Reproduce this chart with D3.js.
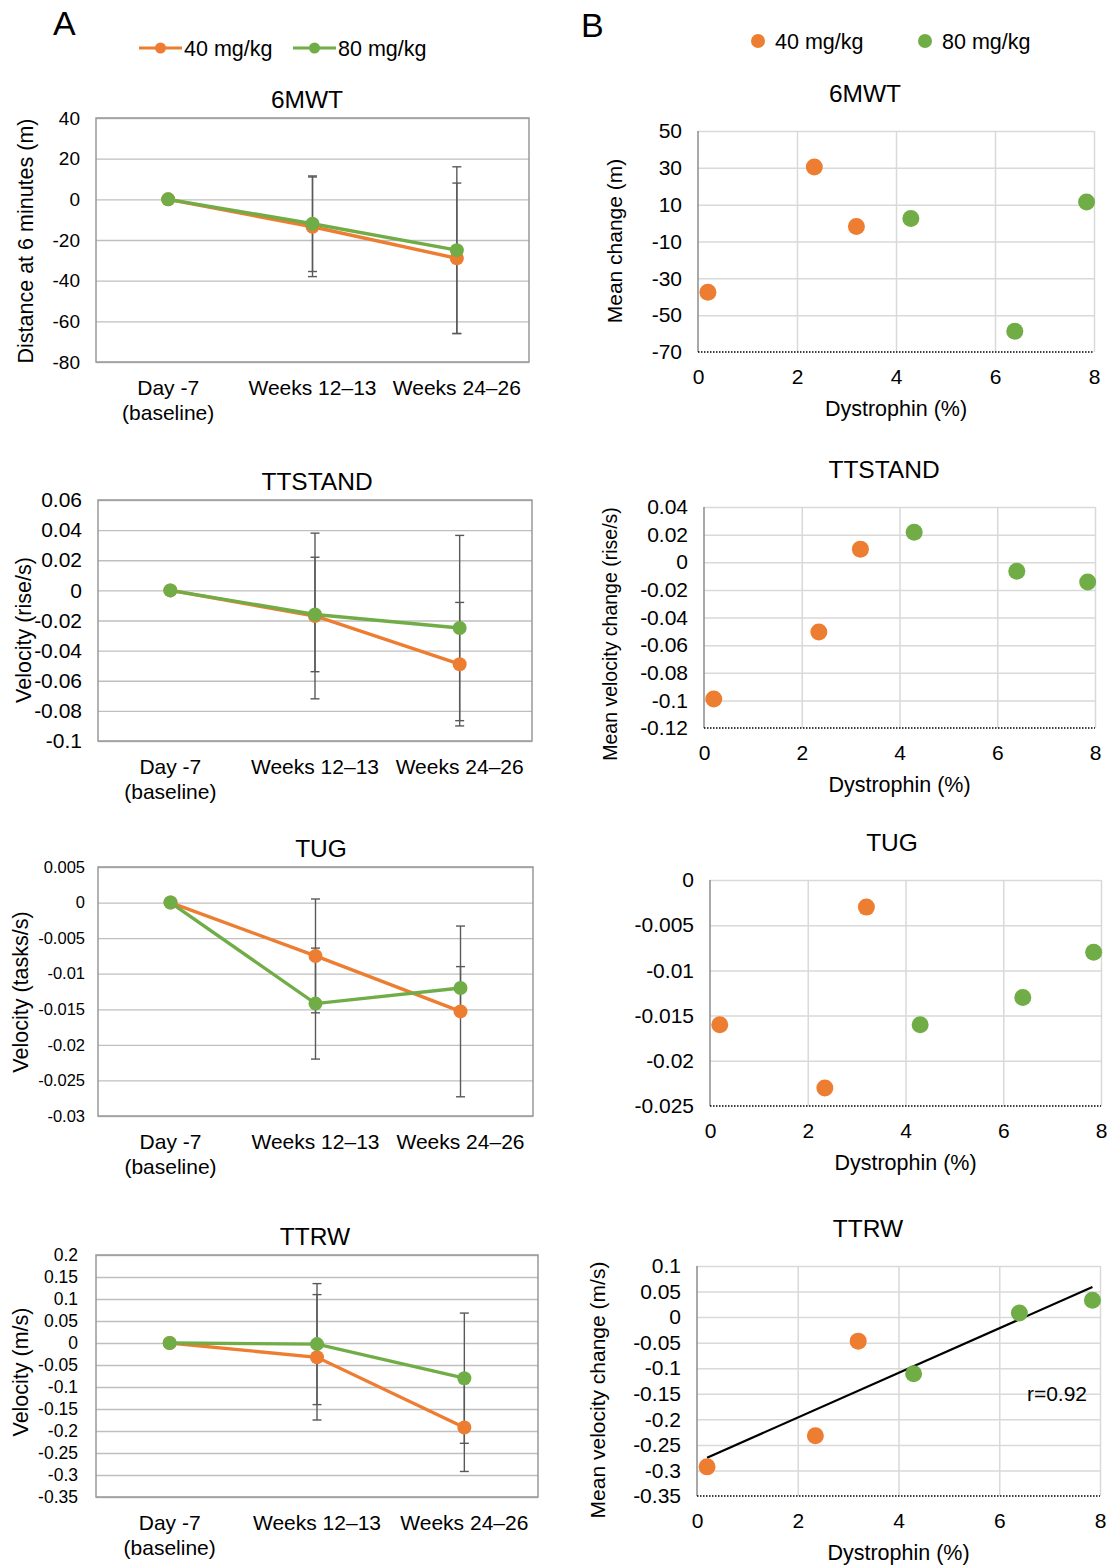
<!DOCTYPE html>
<html>
<head>
<meta charset="utf-8">
<script src="https://cdn.jsdelivr.net/npm/d3@7"></script>
<style>
  body { margin: 0; background: #fff; }
  svg { font-family: "Liberation Sans", Arial, sans-serif; }
</style>
</head>
<body>
<div id="chart"></div>
<script>
// Colours
const orange = '#ED7D31';
const green = '#70AD47';

// Time points (panel A)
const timepoints = [['Day -7', '(baseline)'], ['Weeks 12\u201313'], ['Weeks 24\u201326']];

// Panel A values: mean change and error
const mwt40 = [0, -13.5, -29];
const mwt40Err = [0, 24.5, 37];
const mwt80 = [0, -12, -25];
const mwt80Err = [0, 23.5, 41];

const stand40 = [0, -0.017, -0.049];
const stand40Err = [0, 0.055, 0.041];
const stand80 = [0, -0.016, -0.025];
const stand80Err = [0, 0.038, 0.0615];

const tug40 = [0, -0.0075, -0.0153];
const tug40Err = [0, 0.008, 0.012];
const tug80 = [0, -0.0142, -0.012];
const tug80Err = [0, 0.0078, 0.003];

const ttrw40 = [0, -0.0325, -0.192];
const ttrw40Err = [0, 0.1425, 0.1];
const ttrw80 = [0, -0.0025, -0.08];
const ttrw80Err = [0, 0.1375, 0.148];

// Panel B values: dystrophin (%) vs mean change per patient
const dys40 = [0.2, 2.35, 3.2];
const dys80 = [4.3, 6.4, 7.85];
const chgMwt40 = [-37.5, 30.5, -1.8];
const chgMwt80 = [2.5, -58.7, 11.4];
const chgStand40 = [-0.099, -0.0505, 0.0095];
const chgStand80 = [0.0218, -0.0065, -0.0143];
const chgTug40 = [-0.016, -0.023, -0.003];
const chgTug80 = [-0.016, -0.013, -0.008];
const chgTtrw40 = [-0.293, -0.232, -0.047];
const chgTtrw80 = [-0.111, 0.008, 0.033];

// Tick labels
const ticksMwt = [40, 20, 0, -20, -40, -60, -80];
const ticksStand = [0.06, 0.04, 0.02, 0, -0.02, -0.04, -0.06, -0.08, -0.1];
const ticksTug = [0.005, 0, -0.005, -0.01, -0.015, -0.02, -0.025, -0.03];
const ticksTtrw = [0.2, 0.15, 0.1, 0.05, 0, -0.05, -0.1, -0.15, -0.2, -0.25, -0.3, -0.35];
const ticksBMwt = [50, 30, 10, -10, -30, -50, -70];
const ticksBStand = [0.04, 0.02, 0, -0.02, -0.04, -0.06, -0.08, -0.1, -0.12];
const ticksBTug = [0, -0.005, -0.01, -0.015, -0.02, -0.025];
const ticksBTtrw = [0.1, 0.05, 0, -0.05, -0.1, -0.15, -0.2, -0.25, -0.3, -0.35];
const ticksDys = [0, 2, 4, 6, 8];

const FONT = '"Liberation Sans", Arial, sans-serif';

const svg = d3.select('#chart').append('svg')
    .attr('width', 1115)
    .attr('height', 1567);

// Panel letters
svg.append('text').attr('x', 53).attr('y', 35).attr('font-size', 34).text('A');
svg.append('text').attr('x', 581).attr('y', 37).attr('font-size', 34).text('B');

// Legend A
function lineLegend(x, color, label) {
    const g = svg.append('g').attr('transform', `translate(${x},48)`);
    g.append('line').attr('x1', 0).attr('x2', 43).attr('stroke', color).attr('stroke-width', 3.2);
    g.append('circle').attr('cx', 21.5).attr('r', 5.5).attr('fill', color);
    g.append('text').attr('x', 45).attr('dy', '0.35em').attr('font-size', 21.5).text(label);
}
lineLegend(139, orange, '40 mg/kg');
lineLegend(293, green, '80 mg/kg');

// Legend B
function dotLegend(x, color, label) {
    const g = svg.append('g').attr('transform', `translate(${x},41)`);
    g.append('circle').attr('r', 7).attr('fill', color);
    g.append('text').attr('x', 17).attr('dy', '0.35em').attr('font-size', 21.5).text(label);
}
dotLegend(758, orange, '40 mg/kg');
dotLegend(925, green, '80 mg/kg');

function drawLinePanel(cfg) {
    const { box } = cfg;
    const x = d3.scaleBand().domain(d3.range(timepoints.length)).range([box.l, box.r]);
    const y = d3.scaleLinear().domain(cfg.domain).range([box.b, box.t]);
    const g = svg.append('g');

    // gridlines
    g.append('g')
        .attr('transform', `translate(${box.l},0)`)
        .call(d3.axisLeft(y).tickValues(cfg.ticks).tickSize(-(box.r - box.l)).tickFormat(d => String(d)))
        .call(a => a.select('.domain').remove())
        .call(a => a.selectAll('line').attr('stroke', '#bfbfbf').attr('stroke-width', 1.3))
        .call(a => a.selectAll('text').attr('x', -(cfg.tickGap || 16)).attr('fill', '#000')
            .attr('font-size', cfg.tickSize).attr('font-family', FONT));

    g.append('rect')
        .attr('x', box.l).attr('y', box.t)
        .attr('width', box.r - box.l).attr('height', box.b - box.t)
        .attr('fill', 'none').attr('stroke', '#999').attr('stroke-width', 1.5);

    // category labels
    timepoints.forEach((lines, i) => {
        const t = g.append('text')
            .attr('x', x(i) + x.bandwidth() / 2)
            .attr('y', box.b + 33)
            .attr('text-anchor', 'middle')
            .attr('font-size', 21);
        lines.forEach((s, j) => t.append('tspan')
            .attr('x', x(i) + x.bandwidth() / 2).attr('dy', j === 0 ? 0 : 25).text(s));
    });

    g.append('text').attr('x', cfg.titleX).attr('y', box.t - 10)
        .attr('text-anchor', 'middle').attr('font-size', 24.5).text(cfg.title);

    g.append('text')
        .attr('transform', `translate(${cfg.ylabX},${cfg.ylabY}) rotate(-90)`)
        .attr('text-anchor', 'middle').attr('font-size', 21.5).text(cfg.ylabel);

    const cx = i => x(i) + x.bandwidth() / 2;
    const line = d3.line().x((d, i) => cx(i)).y(d => y(d));

    cfg.series.forEach(s => {
        g.append('path').datum(s.values)
            .attr('d', line).attr('fill', 'none')
            .attr('stroke', s.color).attr('stroke-width', 3.4);
    });
    cfg.series.forEach(s => {
        const eb = g.append('g').attr('stroke', '#595959').attr('stroke-width', 1.4);
        s.values.forEach((v, i) => {
            const e = s.err[i];
            if (!e) return;
            eb.append('line').attr('x1', cx(i)).attr('x2', cx(i)).attr('y1', y(v + e)).attr('y2', y(v - e));
            [v + e, v - e].forEach(val => eb.append('line')
                .attr('x1', cx(i) - 4.5).attr('x2', cx(i) + 4.5).attr('y1', y(val)).attr('y2', y(val)));
        });
    });
    cfg.series.forEach(s => {
        g.selectAll(null).data(s.values).enter().append('circle')
            .attr('cx', (d, i) => cx(i)).attr('cy', d => y(d))
            .attr('r', 7).attr('fill', s.color);
    });
}

function drawScatterPanel(cfg) {
    const { box } = cfg;
    const x = d3.scaleLinear().domain([0, 8]).range([box.l, box.r]);
    const y = d3.scaleLinear().domain(cfg.domain).range([box.b, box.t]);
    const g = svg.append('g');

    // horizontal gridlines + y labels
    g.append('g')
        .attr('transform', `translate(${box.l},0)`)
        .call(d3.axisLeft(y).tickValues(cfg.ticks).tickSize(-(box.r - box.l)).tickFormat(d => String(d)))
        .call(a => a.select('.domain').remove())
        .call(a => a.selectAll('line').attr('stroke', d => d === cfg.domain[0] ? 'none' : '#d9d9d9').attr('stroke-width', 1.5))
        .call(a => a.selectAll('text').attr('x', -16).attr('fill', '#000')
            .attr('font-size', 21).attr('font-family', FONT));

    // vertical gridlines + x labels
    g.append('g')
        .attr('transform', `translate(0,${box.b})`)
        .call(d3.axisBottom(x).tickValues(ticksDys).tickSize(-(box.b - box.t)).tickFormat(d => String(d)))
        .call(a => a.select('.domain').remove())
        .call(a => a.selectAll('line').attr('stroke', d => d === 0 ? 'none' : '#d9d9d9').attr('stroke-width', 1.5))
        .call(a => a.selectAll('text').attr('y', 17).attr('fill', '#000')
            .attr('font-size', 21).attr('font-family', FONT));

    g.append('line').attr('x1', box.l).attr('x2', box.l).attr('y1', box.t).attr('y2', box.b)
        .attr('stroke', '#8c8c8c').attr('stroke-width', 1.5);
    g.append('line').attr('x1', box.l).attr('x2', box.r).attr('y1', box.b).attr('y2', box.b)
        .attr('stroke', '#000').attr('stroke-width', 1.5).attr('stroke-dasharray', '1.5,1.5');

    g.append('text').attr('x', cfg.titleX).attr('y', box.t - 29)
        .attr('text-anchor', 'middle').attr('font-size', 24.5).text(cfg.title);
    g.append('text').attr('x', (box.l + box.r) / 2).attr('y', box.b + 64)
        .attr('text-anchor', 'middle').attr('font-size', 21.5).text('Dystrophin (%)');
    if (cfg.ylabel) {
        g.append('text')
            .attr('transform', `translate(${cfg.ylabX},${cfg.ylabY}) rotate(-90)`)
            .attr('text-anchor', 'middle').attr('font-size', cfg.ylabSize).text(cfg.ylabel);
    }

    if (cfg.trend) {
        const xs = dys40.concat(dys80);
        const ys = cfg.s40.concat(cfg.s80);
        const mx = d3.mean(xs), my = d3.mean(ys);
        const sxy = d3.sum(xs, (v, i) => (v - mx) * (ys[i] - my));
        const sxx = d3.sum(xs, v => (v - mx) ** 2);
        const syy = d3.sum(ys, v => (v - my) ** 2);
        const slope = sxy / sxx;
        const x0 = d3.min(xs), x1 = d3.max(xs);
        g.append('line')
            .attr('x1', x(x0)).attr('y1', y(my + slope * (x0 - mx)))
            .attr('x2', x(x1)).attr('y2', y(my + slope * (x1 - mx)))
            .attr('stroke', '#000').attr('stroke-width', 2.2);
        const r = sxy / Math.sqrt(sxx * syy);
        g.append('text').attr('x', cfg.rX).attr('y', cfg.rY).attr('text-anchor', 'middle')
            .attr('dy', '0.35em').attr('font-size', 21).text('r=' + r.toFixed(2));
    }

    [[dys40, cfg.s40, orange], [dys80, cfg.s80, green]].forEach(([xs, ys, c]) => {
        g.selectAll(null).data(xs).enter().append('circle')
            .attr('cx', d => x(d)).attr('cy', (d, i) => y(ys[i]))
            .attr('r', 8.5).attr('fill', c);
    });
}

// Panel A
drawLinePanel({
    title: '6MWT', titleX: 307, box: { l: 96, r: 529, t: 118, b: 362 },
    domain: [-80, 40], ticks: ticksMwt, tickSize: 19,
    ylabel: 'Distance at 6 minutes (m)', ylabX: 33, ylabY: 241,
    series: [{ values: mwt40, err: mwt40Err, color: orange }, { values: mwt80, err: mwt80Err, color: green }]
});
drawLinePanel({
    title: 'TTSTAND', titleX: 317, box: { l: 98, r: 532, t: 500, b: 741 },
    domain: [-0.1, 0.06], ticks: ticksStand, tickSize: 21,
    ylabel: 'Velocity (rise/s)', ylabX: 31, ylabY: 630,
    series: [{ values: stand40, err: stand40Err, color: orange }, { values: stand80, err: stand80Err, color: green }]
});
drawLinePanel({
    title: 'TUG', titleX: 321, box: { l: 98, r: 533, t: 867, b: 1116 }, tickSize: 16.5, tickGap: 13,
    domain: [-0.03, 0.005], ticks: ticksTug,
    ylabel: 'Velocity (tasks/s)', ylabX: 28, ylabY: 992,
    series: [{ values: tug40, err: tug40Err, color: orange }, { values: tug80, err: tug80Err, color: green }]
});
drawLinePanel({
    title: 'TTRW', titleX: 315, box: { l: 96, r: 538, t: 1255, b: 1497 },
    domain: [-0.35, 0.2], ticks: ticksTtrw, tickSize: 17.5, tickGap: 18,
    ylabel: 'Velocity (m/s)', ylabX: 28, ylabY: 1372,
    series: [{ values: ttrw40, err: ttrw40Err, color: orange }, { values: ttrw80, err: ttrw80Err, color: green }]
});

// Panel B
drawScatterPanel({
    title: '6MWT', titleX: 865, box: { l: 698, r: 1094, t: 131, b: 352 },
    domain: [-70, 50], ticks: ticksBMwt,
    ylabel: 'Mean change (m)', ylabX: 622, ylabY: 241, ylabSize: 21,
    s40: chgMwt40, s80: chgMwt80
});
drawScatterPanel({
    title: 'TTSTAND', titleX: 884, box: { l: 704, r: 1095, t: 507, b: 728 },
    domain: [-0.12, 0.04], ticks: ticksBStand,
    ylabel: 'Mean velocity change (rise/s)', ylabX: 617, ylabY: 634, ylabSize: 19.5,
    s40: chgStand40, s80: chgStand80
});
drawScatterPanel({
    title: 'TUG', titleX: 892, box: { l: 710, r: 1101, t: 880, b: 1106 },
    domain: [-0.025, 0], ticks: ticksBTug,
    s40: chgTug40, s80: chgTug80
});
drawScatterPanel({
    title: 'TTRW', titleX: 868, box: { l: 697, r: 1100, t: 1266, b: 1496 },
    domain: [-0.35, 0.1], ticks: ticksBTtrw,
    ylabel: 'Mean velocity change (m/s)', ylabX: 605, ylabY: 1390, ylabSize: 21,
    s40: chgTtrw40, s80: chgTtrw80, trend: true, rX: 1057, rY: 1394
});
</script>
</body>
</html>
